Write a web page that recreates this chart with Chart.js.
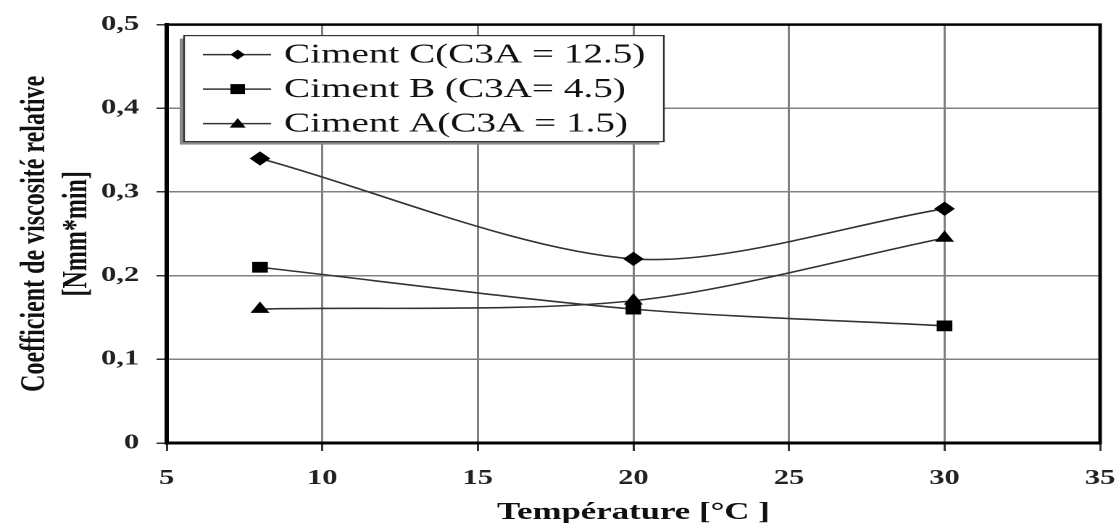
<!DOCTYPE html>
<html>
<head>
<meta charset="utf-8">
<script src="https://cdn.jsdelivr.net/npm/chart.js@4"></script>
<style>
  html, body { margin: 0; padding: 0; background: #fff; overflow: hidden; }
  /* the scan is stretched sideways, so the chart is drawn narrow and widened */
  #wrap { width: 770px; height: 523px; transform: scaleX(1.4494); transform-origin: 0 0; }
</style>
</head>
<body>
<div id="wrap"><canvas id="graphe"></canvas></div>
<script>
// températures mesurées (°C)
const temperatures = [8, 20, 30];
// coefficients de viscosité relative [Nmm*min]
const cimentC = [0.34, 0.22, 0.28];
const cimentB = [0.21, 0.16, 0.14];
const cimentA = [0.16, 0.17, 0.245];
const libelles = ['Ciment C(C3A = 12.5)', 'Ciment B (C3A= 4.5)', 'Ciment A(C3A = 1.5)'];
const marqueurs = ['rectRot', 'rect', 'triangle'];
const ticksX = [5, 10, 15, 20, 25, 30, 35];
const ticksY = [0, 0.1, 0.2, 0.3, 0.4, 0.5];

function points(valeurs) {
  return temperatures.map((t, i) => ({ x: t, y: valeurs[i] }));
}

function dessineMarqueur(ctx, style, x, y) {
  ctx.beginPath();
  if (style === 'rectRot') {
    ctx.moveTo(x, y - 5); ctx.lineTo(x + 5, y); ctx.lineTo(x, y + 5); ctx.lineTo(x - 5, y);
  } else if (style === 'rect') {
    ctx.rect(x - 5, y - 5, 10, 10);
  } else {
    ctx.moveTo(x, y - 5.5); ctx.lineTo(x + 5.5, y + 4); ctx.lineTo(x - 5.5, y + 4);
  }
  ctx.closePath();
  ctx.fill();
}

// cadre + légende dans la zone du graphique
const cadreLegende = {
  id: 'cadreLegende',
  afterDraw(chart) {
    const ctx = chart.ctx, a = chart.chartArea;
    ctx.save();
    ctx.strokeStyle = '#000';
    ctx.lineWidth = 2.5;
    ctx.strokeRect(a.left, a.top, a.right - a.left, a.bottom - a.top);

    const bx = a.left + 12, by = a.top + 11, bw = 331, bh = 106;
    ctx.fillStyle = '#8a8a8a';
    ctx.fillRect(bx - 3, by + 3, bw, bh);
    ctx.fillStyle = '#fff';
    ctx.fillRect(bx, by, bw, bh);
    ctx.strokeStyle = '#333';
    ctx.lineWidth = 1.2;
    ctx.strokeRect(bx, by, bw, bh);

    ctx.font = '27px "Liberation Serif", "Times New Roman", serif';
    ctx.textBaseline = 'middle';
    chart.data.datasets.forEach((ds, i) => {
      const y = by + 19 + i * 34.5;
      ctx.strokeStyle = '#333';
      ctx.lineWidth = 1.5;
      ctx.beginPath();
      ctx.moveTo(bx + 13, y);
      ctx.lineTo(bx + 60, y);
      ctx.stroke();
      ctx.fillStyle = '#000';
      dessineMarqueur(ctx, ds.pointStyle, bx + 37, y);
      ctx.fillStyle = '#111';
      ctx.fillText(ds.label, bx + 69, y + 1);
    });
    ctx.restore();
  }
};

const serie = (i, valeurs, rayon) => ({
  label: libelles[i],
  data: points(valeurs),
  pointStyle: marqueurs[i],
  pointRadius: rayon,
  pointBackgroundColor: '#000',
  pointBorderColor: '#000',
  borderColor: '#333',
  borderWidth: 1.6,
  tension: 0.3,
  fill: false
});

const policeTicks = { family: '"Liberation Serif", "Times New Roman", serif', size: 21, weight: 'bold' };
const policeTitre = { family: '"Liberation Serif", "Times New Roman", serif', size: 24, weight: 'bold' };

new Chart(document.getElementById('graphe'), {
  type: 'line',
  data: {
    datasets: [serie(0, cimentC, 6), serie(1, cimentB, 6.5), serie(2, cimentA, 6)]
  },
  options: {
    responsive: true,
    maintainAspectRatio: false,
    devicePixelRatio: 2,
    animation: false,
    layout: { padding: { top: 22, right: 11, left: 0, bottom: 0 } },
    plugins: { legend: { display: false }, tooltip: { enabled: false } },
    scales: {
      x: {
        type: 'linear',
        min: 5, max: 35,
        afterBuildTicks: s => { s.ticks = ticksX.map(v => ({ value: v })); },
        afterFit: s => { s.height = 80; s.paddingLeft = 0; s.paddingRight = 0; },
        ticks: { color: '#222', font: policeTicks, padding: 15, maxRotation: 0 },
        grid: { color: '#808080', lineWidth: 1.5, tickLength: 8, tickColor: '#333' },
        border: { display: true, color: '#000', width: 3 },
        title: { display: true, text: 'Température [°C ]', color: '#111', font: policeTitre, padding: { top: 0, bottom: -4 } }
      },
      y: {
        min: 0, max: 0.5,
        afterBuildTicks: s => { s.ticks = ticksY.map(v => ({ value: v })); },
        afterFit: s => { s.width = 115; },
        ticks: {
          color: '#222', font: policeTicks, padding: 12,
          callback: v => v === 0 ? '0' : v.toFixed(1).replace('.', ',')
        },
        grid: { color: '#808080', lineWidth: 1.5, tickLength: 7, tickColor: '#333' },
        border: { display: true, color: '#000', width: 3 },
        title: {
          display: true,
          text: ['Coefficient de viscosité relative', '[Nmm*min]'],
          color: '#111', font: policeTitre, padding: { top: 10, bottom: 0 }
        }
      }
    }
  },
  plugins: [cadreLegende]
});
</script>
</body>
</html>
